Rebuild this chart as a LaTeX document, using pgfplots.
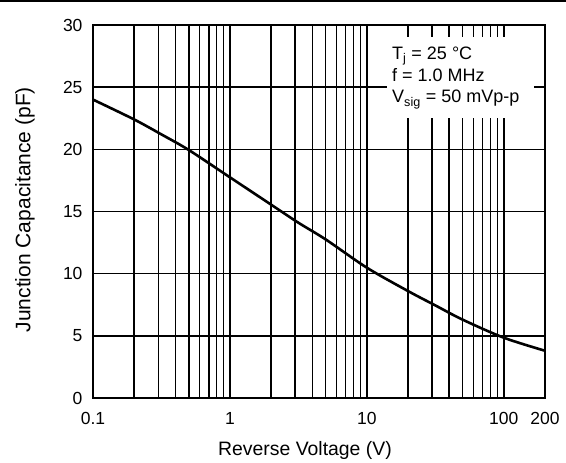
\documentclass[border=0pt]{standalone}
\usepackage{fontspec}
\setmainfont{Liberation Sans}
\usepackage{pgfplots}
\pgfplotsset{compat=1.18}
\begin{document}
\begin{tikzpicture}
\useasboundingbox (-93bp,-65bp) rectangle (473bp,398bp);
\draw[line width=2.4bp] (-93bp,396.8bp) -- (473bp,396.8bp);
\begin{axis}[
  at={(0,0)}, anchor=south west,
  scale only axis, width=452bp, height=373bp,
  xmode=log, log basis x=10,
  xmin=0.1, xmax=200, ymin=0, ymax=30,
  xtick={0.1,1,10,100,200},
  xticklabels={0.1,\raisebox{-3bp}{1},10,100,200},
  minor xtick={0.2,0.3,0.4,0.5,0.6,0.7,0.8,0.9,2,3,4,5,6,7,8,9,20,30,40,50,60,70,80,90},
  ytick={0,5,10,15,20,25,30},
  grid=both,
  major grid style={black, line width=1.6bp},
  minor grid style={black, line width=1.6bp},
  axis line style={line width=2.5bp},
  tick style={draw=none},
  ticklabel style={font=\fontsize{17.5bp}{20bp}\selectfont},
  /pgf/number format/assume math mode=true,
  xticklabel style={yshift=-11bp},
  yticklabel style={xshift=-7bp},
  xlabel={Reverse Voltage (V)},
  ylabel={Junction Capacitance (pF)},
  xlabel style={font=\fontsize{19.4bp}{22bp}\selectfont, at={(axis description cs:0.469,0)}, anchor=base, yshift=-57bp},
  ylabel style={font=\fontsize{21bp}{24bp}\selectfont, at={(axis description cs:-0.1504,0.505)}, anchor=center},
]
\addplot[black, line width=2.6bp, smooth] coordinates {
  (0.1,24.0) (0.2,22.4) (0.316,21.2) (0.5,19.95) (1,17.75)
  (2,15.55) (3.16,14.1) (5.01,12.75) (10,10.48) (20,8.6)
  (31.6,7.45) (50.1,6.3) (100,4.85) (200,3.8)
};
\node[fill=white, inner sep=0, minimum width=147bp, minimum height=81bp, anchor=north west] at (rel axis cs:0.650,0.968) {};
\node[inner sep=0, anchor=north west, align=left, font=\fontsize{18bp}{21.7bp}\selectfont] at (rel axis cs:0.6615,0.942)
  {T\textsubscript{j} = 25 °C\\ f = 1.0 MHz\\ V\textsubscript{sig} = 50 mVp-p};
\end{axis}
\end{tikzpicture}
\end{document}
